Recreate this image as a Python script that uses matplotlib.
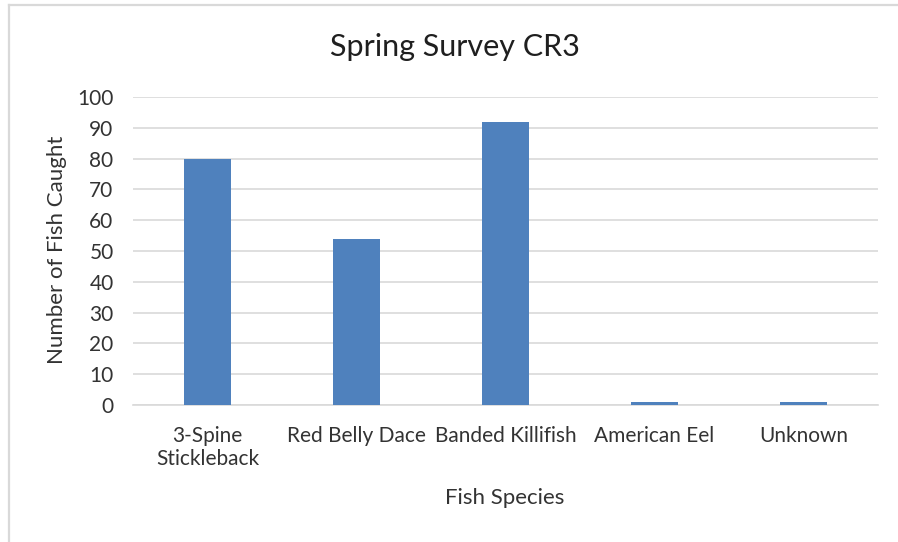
import matplotlib.pyplot as plt
from matplotlib.lines import Line2D

plt.rcParams['font.family'] = ['Lato', 'DejaVu Sans']

species = ["3-Spine\nStickleback", "Red Belly Dace", "Banded Killifish", "American Eel", "Unknown"]
counts = [80, 54, 92, 1, 1]
y_ticks = list(range(0, 101, 10))

text_color = "#333333"
bar_color = "#4f81bd"
grid_color = "#d9d9d9"

fig = plt.figure(figsize=(8.98, 5.42), dpi=100)
ax = fig.add_axes([133 / 898, 1 - 405 / 542, (878 - 133) / 898, (405 - 97) / 542])

x = list(range(len(species)))
ax.bar(x, counts, width=0.31, color=bar_color, zorder=3)

ax.set_xlim(-0.5, len(species) - 0.5)
ax.set_ylim(0, 100)
ax.set_yticks(y_ticks)
ax.set_yticklabels([str(v) for v in y_ticks], fontsize=15, color=text_color)
ax.set_xticks(x)
ax.set_xticklabels(species, fontsize=15, color=text_color, linespacing=1.2)
ax.tick_params(axis='both', length=0)
ax.tick_params(axis='y', pad=14)
ax.tick_params(axis='x', pad=15)
for lbl in ax.get_xticklabels():
    lbl.set_verticalalignment('top')

ax.grid(axis='y', color=grid_color, linewidth=1.2, zorder=0)
for side in ['top', 'right', 'left']:
    ax.spines[side].set_visible(False)
ax.spines['bottom'].set_color(grid_color)
ax.spines['bottom'].set_linewidth(1.2)

fig.text(455 / 898, 1 - 47 / 542, "Spring Survey CR3", fontsize=22, color="#1f1f1f",
         ha='center', va='center')
fig.text(505 / 898, 1 - 498 / 542, "Fish Species", fontsize=16, color=text_color,
         ha='center', va='center')
fig.text(57 / 898, 1 - 250 / 542, "Number of Fish Caught", fontsize=16, color=text_color,
         ha='center', va='center', rotation=90)

# chart frame along the top and left edges
fig.add_artist(Line2D([8.5 / 898, 1], [1 - 5 / 542, 1 - 5 / 542], color="#d9d9d9",
                      linewidth=1.6, transform=fig.transFigure))
fig.add_artist(Line2D([8.5 / 898, 8.5 / 898], [0, 1 - 5 / 542], color="#d9d9d9",
                      linewidth=1.6, transform=fig.transFigure))

fig.savefig("out.png", dpi=100, facecolor="white")
